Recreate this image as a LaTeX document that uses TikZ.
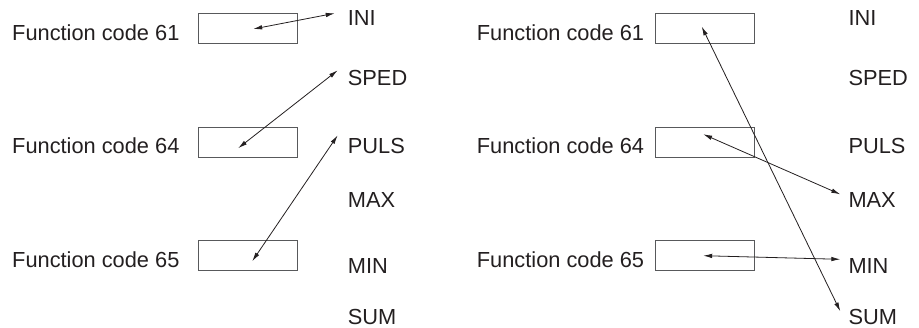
\documentclass[tikz,border=0pt]{standalone}
\usepackage{fontspec}
\setmainfont{Liberation Sans}
\usepackage{tikz}
\usetikzlibrary{arrows.meta,positioning}
\definecolor{inkdark}{HTML}{231F20}
\definecolor{boxgray}{HTML}{58595B}

\begin{document}
\begin{tikzpicture}[
    x=1pt, y=-1pt,
    font=\fontsize{21.8}{24}\selectfont,
    every node/.style={text=inkdark},
    fclabel/.style={anchor=base west, inner sep=0pt},
    sigbox/.style={draw=boxgray, line width=1.1pt, minimum width=99pt, minimum height=30pt, inner sep=0pt},
    signame/.style={anchor=base west, inner sep=0pt, text height=15.5pt, text depth=0pt},
    link/.style={draw=inkdark, line width=0.8pt, {Latex[length=9pt,width=4.5pt]}-{Latex[length=9pt,width=4.5pt]}}
]
  \useasboundingbox (0,0) rectangle (919,327);

  % left: before
  \node[fclabel] (l61) at (12,40) {Function code 61};
  \node[fclabel] (l64) at (12,153) {Function code 64};
  \node[fclabel] (l65) at (12,267) {Function code 65};
  \node[sigbox] (lb61) at (248.2,28.5) {};
  \node[sigbox] (lb64) at (248.2,142.2) {};
  \node[sigbox] (lb65) at (248.2,255.3) {};

  \node[signame] (lini) at (347.7,25) {INI};
  \node[signame] (lsped) at (347.7,85) {SPED};
  \node[signame] (lpuls) at (347.7,153) {PULS};
  \node[signame] (lmax) at (347.7,207) {MAX};
  \node[signame] (lmin) at (347.7,273) {MIN};
  \node[signame] (lsum) at (347.7,324) {SUM};

  \draw[link] ([shift={(5,0.5)}]lb61.center) -- ([shift={(-13,4)}]lini.north west);
  \draw[link] ([shift={(-10,6)}]lb64.center) -- ([shift={(-10,1)}]lsped.north west);
  \draw[link] ([shift={(4,6)}]lb65.center) -- ([shift={(-10,-2)}]lpuls.north west);

  % right: after
  \node[fclabel] (r61) at (476.7,40) {Function code 61};
  \node[fclabel] (r64) at (476.7,153) {Function code 64};
  \node[fclabel] (r65) at (476.7,267) {Function code 65};
  \node[sigbox] (rb61) at (705.2,28.5) {};
  \node[sigbox] (rb64) at (705.2,142.2) {};
  \node[sigbox] (rb65) at (705.2,255.3) {};

  \node[signame] (rini) at (848.3,25) {INI};
  \node[signame] (rsped) at (848.3,85) {SPED};
  \node[signame] (rpuls) at (848.3,153) {PULS};
  \node[signame] (rmax) at (848.3,207) {MAX};
  \node[signame] (rmin) at (848.3,273) {MIN};
  \node[signame] (rsum) at (848.3,324) {SUM};

  \draw[link] ([shift={(-3.5,-2)}]rb61.center) -- ([shift={(-8,3)}]rsum.north west);
  \draw[link] ([shift={(-2,-8)}]rb64.center) -- ([shift={(-8,3)}]rmax.north west);
  \draw[link] ([shift={(-2,0.4)}]rb65.center) -- ([shift={(-8,2)}]rmin.north west);
\end{tikzpicture}
\end{document}
